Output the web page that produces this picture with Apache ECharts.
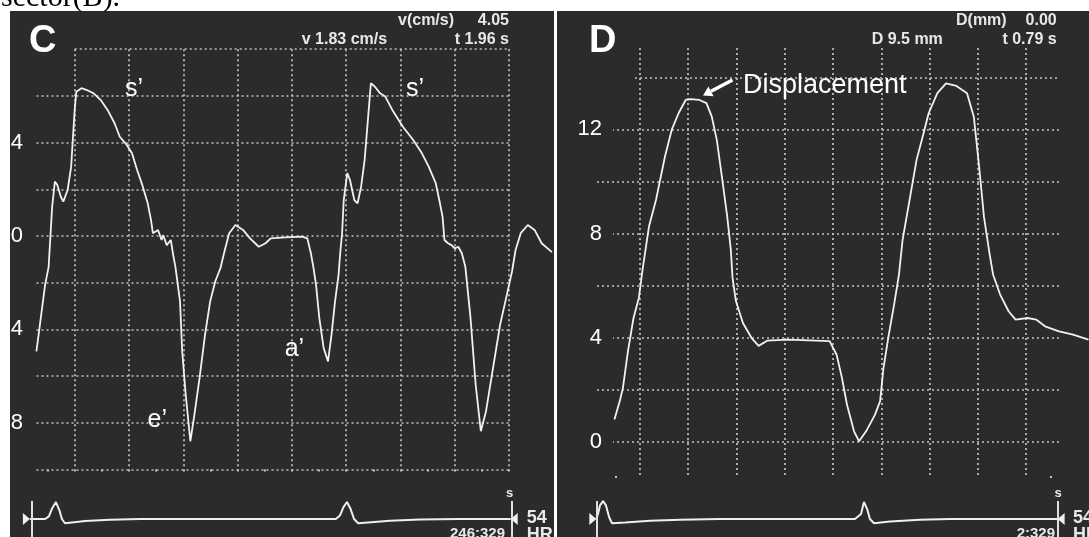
<!DOCTYPE html>
<html><head><meta charset="utf-8">
<script src="https://cdn.jsdelivr.net/npm/echarts@6/dist/echarts.min.js"></script>
<style>html,body{margin:0;padding:0;background:#fff}#c{width:1089px;height:537px}</style>
</head><body><div id="c"></div>
<script>
// ---- Panel C : tissue velocity (cm/s) against time (s)
const velTime = [0.059,0.091,0.104,0.117,0.127,0.136,0.149,0.158,0.174,0.187,0.193,0.200,0.206,0.225,0.245,0.270,0.296,0.321,0.347,0.366,0.392,0.411,0.430,0.449,0.469,0.481,0.488,0.507,0.520,0.526,0.539,0.554,0.564,0.571,0.577,0.588,0.596,0.609,0.626,0.641,0.660,0.680,0.699,0.718,0.737,0.750,0.769,0.792,0.820,0.846,0.878,0.903,0.922,0.974,1.038,1.057,1.070,1.079,1.089,1.101,1.117,1.133,1.146,1.159,1.172,1.178,1.185,1.191,1.204,1.214,1.230,1.242,1.255,1.268,1.281,1.291,1.306,1.325,1.344,1.370,1.409,1.447,1.479,1.504,1.530,1.543,1.555,1.562,1.575,1.588,1.600,1.613,1.626,1.639,1.645,1.658,1.677,1.696,1.715,1.741,1.767,1.792,1.811,1.824,1.843,1.869,1.894,1.920,1.958];
const velValue = [-4.94,-2.09,-1.32,1.26,2.33,2.18,1.68,1.47,1.97,2.97,4.11,5.40,6.18,6.33,6.25,6.11,5.82,5.40,4.83,4.25,3.90,3.54,2.83,2.18,1.40,0.69,0.12,0.26,-0.17,0.04,-0.39,-0.17,-0.89,-1.32,-1.37,-2.80,-4.94,-6.80,-8.79,-7.65,-6.08,-4.23,-2.80,-1.94,-1.37,-0.74,0.12,0.47,0.26,-0.10,-0.46,-0.31,-0.10,-0.06,-0.03,-0.10,-0.74,-1.32,-2.09,-3.51,-4.80,-5.37,-4.23,-2.80,-1.66,-0.74,0.12,1.54,2.69,2.40,1.54,1.40,2.11,3.26,5.11,6.54,6.39,6.11,5.97,5.40,4.68,4.11,3.54,2.97,2.26,1.54,0.83,-0.17,-0.31,-0.39,-0.53,-0.46,-0.74,-1.32,-1.37,-3.51,-6.37,-8.36,-7.51,-5.65,-3.80,-2.51,-1.51,-0.60,0.12,0.47,0.26,-0.31,-0.69];
const velTicks = [-8, -4, 0, 4];

// ---- Panel D : displacement (mm) against time (s)
const dispTime = [0.095,0.117,0.130,0.151,0.174,0.196,0.213,0.238,0.267,0.304,0.332,0.361,0.390,0.411,0.447,0.476,0.498,0.519,0.540,0.562,0.577,0.584,0.598,0.627,0.663,0.692,0.727,0.814,0.901,0.986,1.015,1.037,1.058,1.087,1.108,1.137,1.174,1.195,1.209,1.231,1.253,1.273,1.288,1.317,1.346,1.375,1.396,1.432,1.468,1.511,1.555,1.583,1.605,1.625,1.648,1.663,1.692,1.727,1.756,1.806,1.841,1.878,1.936,1.994,2.058];
const dispValue = [0.86,1.57,2.07,3.49,4.76,5.53,6.72,8.27,9.29,10.95,11.98,12.63,13.13,13.16,13.13,13.01,12.49,11.59,10.18,8.65,7.37,6.30,5.41,4.57,3.99,3.69,3.89,3.93,3.90,3.87,3.35,2.46,1.43,0.41,0.03,0.41,1.05,1.57,2.84,4.12,5.27,6.42,7.75,9.29,10.83,11.85,12.62,13.39,13.77,13.67,13.39,12.49,10.57,8.65,7.24,6.42,5.66,5.02,4.70,4.76,4.70,4.44,4.25,4.12,3.93];
const dispTicks = [0, 4, 8, 12];

// ---- ECG strips under each panel (relative amplitude)
const ecgCTime  = [0.035,0.091,0.105,0.116,0.131,0.144,0.153,0.164,0.190,0.238,0.330,0.441,1.162,1.177,1.190,1.203,1.216,1.229,1.244,1.280,1.361,1.472,1.619,1.806];
const ecgCValue = [0,0,0.15,0.6,1.0,0.5,0,-0.25,-0.2,-0.12,-0.05,0,0,0.2,0.7,1.0,0.6,0,-0.25,-0.2,-0.1,-0.03,0,0];
const ecgDTime  = [0.020,0.027,0.035,0.048,0.060,0.073,0.085,0.139,0.242,0.367,0.532,1.091,1.116,1.128,1.141,1.153,1.170,1.236,1.360,1.485,1.930];
const ecgDValue = [0,0.3,0.8,1.05,0.8,0.1,-0.25,-0.2,-0.1,-0.05,0,0,0.3,1.0,0.6,0,-0.25,-0.15,-0.05,0,0];
const ecgCursorC = [0.035, 1.806];
const ecgCursorD = [0.020, 1.930];

const BG = '#2b2b2b';
const TRACE = '#f4f0ee';
const FONT = 'Liberation Sans';
const DOT = {type: [2, 3], color: '#c2c2c2', width: 1.7};

const zip = (a, b) => a.map((v, i) => [v, b[i]]);

function gridAxis(gridIndex, min, max, interval, splitOpts) {
  return {
    gridIndex, type: 'value', min, max, interval,
    axisLine: {show: false}, axisTick: {show: false}, axisLabel: {show: false},
    splitLine: Object.assign({show: true, lineStyle: DOT}, splitOpts || {})
  };
}
function hidden(gridIndex, min, max) {
  return {gridIndex, type: 'value', min, max, show: false};
}

const grids = [
  {left: 36.5, top: 95.9, width: 473.5, height: 373.6},   // 0 C horizontal lines
  {left: 74.7, top: 49.2, width: 435.3, height: 46.7},    // 1 C top line
  {left: 20.4, top: 49.2, width: 488.7, height: 420.3},   // 2 C vertical lines
  {left: 20.4, top: 49.2, width: 532.1, height: 420.3},   // 3 C data
  {left: 47.55, top: 49.2, width: 461.55, height: 420.3}, // 4 C bottom dots
  {left: 20.4, top: 501, width: 532.1, height: 36},       // 5 C ECG
  {left: 597, top: 129.4, width: 463, height: 312.6},     // 6 D horizontal lines
  {left: 635, top: 77.3, width: 425, height: 52.1},       // 7 D top line
  {left: 591.5, top: 48, width: 434.7, height: 428},      // 8 D vertical lines
  {left: 591.5, top: 77.3, width: 497.5, height: 364.7},  // 9 D data
  {left: 615.65, top: 48, width: 434.7, height: 428},     // 10 D bottom dots
  {left: 591.5, top: 501, width: 497.5, height: 36}       // 11 D ECG
];

const xAxes = [
  hidden(0, 0, 1),
  hidden(1, 0, 1),
  gridAxis(2, 0, 1.8, 0.2, {showMinLine: false, showMaxLine: true}),
  hidden(3, 0, 1.96),
  {gridIndex: 4, type: 'value', min: 0.1, max: 1.8, interval: 0.1, offset: 8,
   axisLine: {show: false}, axisLabel: {show: false}, splitLine: {show: false},
   axisTick: {show: true, inside: false, length: 2, lineStyle: {color: '#c2c2c2', width: 2}}},
  hidden(5, 0, 1.96),
  hidden(6, 0, 1),
  hidden(7, 0, 1),
  gridAxis(8, 0, 1.8, 0.2, {showMinLine: false, showMaxLine: true}),
  hidden(9, 0, 2.06),
  {gridIndex: 10, type: 'category', data: ['a', 'b'], boundaryGap: false, offset: 3,
   axisLine: {show: false}, axisLabel: {show: false}, splitLine: {show: false},
   axisTick: {show: true, inside: false, length: 2, lineStyle: {color: '#c2c2c2', width: 2}}},
  hidden(11, 0, 2.06)
];

const yAxes = [
  Object.assign(gridAxis(0, -10, 6, 2), {
    position: 'left',
    axisLabel: {show: true, margin: 13.5, color: '#ffffff', fontSize: 22, fontFamily: FONT,
      formatter: v => velTicks.indexOf(v) >= 0 ? String(v) : ''}
  }),
  gridAxis(1, 6, 8, 2, {showMinLine: false}),
  hidden(2, 0, 1),
  hidden(3, -10, 8),
  hidden(4, 0, 1),
  hidden(5, -1.06, 1.06),
  Object.assign(gridAxis(6, 0, 12, 2), {position: 'left'}),
  gridAxis(7, 12, 14, 2, {showMinLine: false}),
  hidden(8, 0, 1),
  hidden(9, 0, 14),
  hidden(10, 0, 1),
  hidden(11, -1.06, 1.06),
  {gridIndex: 6, type: 'value', position: 'left', min: 0, max: 12, interval: 4, z: 5,
   axisLine: {show: false, onZero: false}, axisTick: {show: false}, splitLine: {show: false},
   axisLabel: {show: true, margin: -16, color: '#ffffff', fontSize: 22, fontFamily: FONT,
     backgroundColor: BG, padding: [0, 11, 0, 2],
     formatter: v => dispTicks.indexOf(v) >= 0 ? String(v) : ''}}
];

function ecgSeries(axis, time, value, cursors) {
  return {
    type: 'line', xAxisIndex: axis, yAxisIndex: axis, data: zip(time, value),
    showSymbol: false, silent: true, z: 4,
    lineStyle: {color: '#efefef', width: 2},
    markLine: {silent: true, symbol: 'none', animation: false,
      label: {show: false}, lineStyle: {color: '#e9dcd6', width: 2, type: 'solid'},
      data: cursors.map(t => ({xAxis: t}))},
    markPoint: {silent: true, animation: false, label: {show: false},
      itemStyle: {color: '#efefef'},
      data: [
        {coord: [cursors[0], 0], symbol: 'triangle', symbolSize: [12, 7], symbolRotate: -90, symbolOffset: [-3.5, 0]},
        {coord: [cursors[1], 0], symbol: 'triangle', symbolSize: [12, 7], symbolRotate: 90, symbolOffset: [3.5, 0]}
      ]}
  };
}

function txt(text, x, y, font, align, fill, z) {
  return {type: 'text', x, y, z: z || 20, silent: true,
    style: {text, font, fill: fill || '#ffffff', textAlign: align || 'left', textVerticalAlign: 'middle'}};
}
const HB = 'bold 16px "Liberation Sans"';

const graphics = [
  {type: 'rect', z: -10, silent: true, shape: {x: 10, y: 11, width: 544, height: 526}, style: {fill: BG}},
  {type: 'rect', z: -10, silent: true, shape: {x: 557, y: 11, width: 532, height: 526}, style: {fill: BG}},
  txt('sector(B).', 1, -2.1, '30px "Liberation Serif"', 'left', '#000000', -5),
  {type: 'rect', z: 30, silent: true, shape: {x: 0, y: 11, width: 10, height: 526}, style: {fill: '#ffffff'}},
  txt('C', 29, 42, 'bold 38px "Liberation Sans"'),
  txt('D', 589, 42, 'bold 38px "Liberation Sans"'),
  txt('v(cm/s)', 398, 21, HB, 'left', '#e8e8e8'),
  txt('4.05', 509, 21, HB, 'right', '#e8e8e8'),
  txt('v 1.83 cm/s', 301.7, 39.5, HB, 'left', '#e8e8e8'),
  txt('t 1.96 s', 509, 39.5, HB, 'right', '#e8e8e8'),
  txt('D(mm)', 956, 21, HB, 'left', '#e8e8e8'),
  txt('0.00', 1056.7, 21, HB, 'right', '#e8e8e8'),
  txt('D 9.5 mm', 871.7, 39.5, HB, 'left', '#e8e8e8'),
  txt('t 0.79 s', 1056.7, 39.5, HB, 'right', '#e8e8e8'),
  txt('s\u2019', 125, 89.3, '25px "Liberation Sans"'),
  txt('s\u2019', 406, 89.3, '25px "Liberation Sans"'),
  txt('e\u2019', 147.6, 420.3, '25px "Liberation Sans"'),
  txt('a\u2019', 284.7, 349.3, '25px "Liberation Sans"'),
  txt('Displacement', 743, 85.6, '27px "Liberation Sans"'),
  {type: 'line', z: 20, silent: true, shape: {x1: 732.5, y1: 80, x2: 711, y2: 91.3}, style: {stroke: '#ffffff', lineWidth: 3.5}},
  {type: 'polygon', z: 20, silent: true, shape: {points: [[703, 95.5], [713.6, 96.2], [708.4, 86.4]]}, style: {fill: '#ffffff'}},
  txt('s', 509.5, 493, 'bold 13px "Liberation Sans"', 'center', '#e8e8e8'),
  txt('s', 1058, 493, 'bold 13px "Liberation Sans"', 'center', '#e8e8e8'),
  txt('54', 526.7, 518.5, 'bold 18px "Liberation Sans"', 'left', '#e8e8e8'),
  txt('HR', 526.7, 535.4, 'bold 18px "Liberation Sans"', 'left', '#e8e8e8'),
  txt('54', 1073, 518.5, 'bold 18px "Liberation Sans"', 'left', '#e8e8e8'),
  txt('HR', 1073, 535.4, 'bold 18px "Liberation Sans"', 'left', '#e8e8e8'),
  txt('246:329', 505, 533.4, 'bold 15px "Liberation Sans"', 'right', '#e8e8e8'),
  txt('2:329', 1055, 533.4, 'bold 15px "Liberation Sans"', 'right', '#e8e8e8')
];

const chart = echarts.init(document.getElementById('c'), null, {renderer: 'canvas'});
chart.setOption({
  animation: false,
  backgroundColor: '#ffffff',
  grid: grids,
  xAxis: xAxes,
  yAxis: yAxes,
  graphic: {elements: graphics},
  series: [
    {type: 'line', xAxisIndex: 3, yAxisIndex: 3, data: zip(velTime, velValue),
     showSymbol: false, silent: true, z: 4, lineStyle: {color: TRACE, width: 1.8}},
    {type: 'line', xAxisIndex: 9, yAxisIndex: 9, data: zip(dispTime, dispValue),
     showSymbol: false, silent: true, z: 4, lineStyle: {color: TRACE, width: 1.8}},
    ecgSeries(5, ecgCTime, ecgCValue, ecgCursorC),
    ecgSeries(11, ecgDTime, ecgDValue, ecgCursorD)
  ]
});
</script></body></html>
